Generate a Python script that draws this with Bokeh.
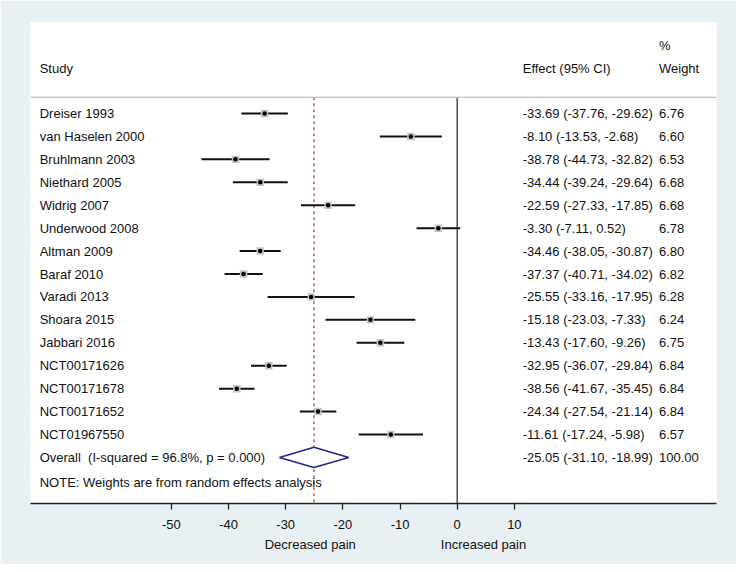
from bokeh.plotting import figure
from bokeh.models import Range1d, FixedTicker, Span, ColumnDataSource, LinearAxis
from bokeh.core.properties import value
from bokeh.embed import file_html
from bokeh.resources import INLINE
import math

# ---- data ----
studies = ["Dreiser 1993", "van Haselen 2000", "Bruhlmann 2003", "Niethard 2005",
           "Widrig 2007", "Underwood 2008", "Altman 2009", "Baraf 2010",
           "Varadi 2013", "Shoara 2015", "Jabbari 2016", "NCT00171626",
           "NCT00171678", "NCT00171652", "NCT01967550"]
effects = [-33.69, -8.10, -38.78, -34.44, -22.59, -3.30, -34.46, -37.37,
           -25.55, -15.18, -13.43, -32.95, -38.56, -24.34, -11.61]
lower = [-37.76, -13.53, -44.73, -39.24, -27.33, -7.11, -38.05, -40.71,
         -33.16, -23.03, -17.60, -36.07, -41.67, -27.54, -17.24]
upper = [-29.62, -2.68, -32.82, -29.64, -17.85, 0.52, -30.87, -34.02,
         -17.95, -7.33, -9.26, -29.84, -35.45, -21.14, -5.98]
weights = [6.76, 6.60, 6.53, 6.68, 6.68, 6.78, 6.80, 6.82,
           6.28, 6.24, 6.75, 6.84, 6.84, 6.84, 6.57]

overall_label = "Overall\u00a0\u00a0(I-squared = 96.8%, p = 0.000)"
overall_effect = -25.05
overall_lower = -31.10
overall_upper = -18.99
overall_weight = 100.00

x_ticks = [-50, -40, -30, -20, -10, 0, 10]
note_text = "NOTE: Weights are from random effects analysis"
direction_labels = ["Decreased pain", "Increased pain"]
direction_pos = [-25.7, 4.6]

# ---- layout helpers ----
FONT = value("Liberation Sans")
FS = value("13px")
TXT = "#111111"
BG = "#e9f0f3"

n = len(studies)
rows = list(range(n))
overall_row = n

STUDY_X = -73.03
EFFECT_X = 11.46
WEIGHT_X = 35.3
HEADER_Y = -1.96
PCT_Y = -2.97
LINE_Y = -0.71
Y_BOTTOM = 17.01

p = figure(width=736, height=564,
           x_range=Range1d(-74.64, 45.36), y_range=Range1d(Y_BOTTOM, -3.97),
           output_backend="svg", toolbar_location=None, y_axis_type=None,
           x_axis_type=None,
           min_border_left=30, min_border_right=20, min_border_top=22,
           min_border_bottom=61)
p.border_fill_color = BG
p.background_fill_color = "white"
p.outline_line_color = None
p.xgrid.visible = False
p.ygrid.visible = False

ax = LinearAxis(ticker=FixedTicker(ticks=x_ticks),
                major_label_overrides={t: str(t) for t in x_ticks})
ax.major_tick_out = 6
ax.major_tick_in = 0
ax.minor_tick_line_color = None
ax.axis_line_color = "#222222"
ax.axis_line_width = 1.3
ax.major_tick_line_color = "#222222"
ax.major_tick_line_width = 1.3
ax.major_label_text_font = "Liberation Sans"
ax.major_label_text_font_size = "13px"
ax.major_label_text_color = TXT
ax.major_label_standoff = 10
p.add_layout(ax, "below")

ax2 = LinearAxis(ticker=FixedTicker(ticks=direction_pos),
                 major_label_overrides={v: s for v, s in zip(direction_pos, direction_labels)})
ax2.axis_line_color = None
ax2.major_tick_line_color = None
ax2.minor_tick_line_color = None
ax2.major_tick_out = 0
ax2.major_tick_in = 0
ax2.major_label_standoff = 5
ax2.major_label_text_font = "Liberation Sans"
ax2.major_label_text_font_size = "13px"
ax2.major_label_text_color = TXT
p.add_layout(ax2, "below")

# header separator
p.add_layout(Span(location=LINE_Y, dimension="width", line_color="#b0b0b0", line_width=1))

# zero line and overall dashed line
p.segment(x0=[0], y0=[LINE_Y], x1=[0], y1=[Y_BOTTOM], line_color="#333333", line_width=1.3)
p.segment(x0=[overall_effect], y0=[LINE_Y], x1=[overall_effect], y1=[Y_BOTTOM],
          line_color="#b03a3a", line_width=1.2, line_dash="3 3")

# CIs
src = ColumnDataSource(dict(
    y=rows, eff=effects, lo=lower, hi=upper,
    size=[7.5 * math.sqrt(w / max(weights)) for w in weights],
))
p.segment(x0="lo", y0="y", x1="hi", y1="y", source=src, line_color="#111111", line_width=2)
p.scatter(x="eff", y="y", size="size", marker="square", source=src,
          fill_color="#c4c4c4", line_color=None)
p.scatter(x="eff", y="y", size=4.5, marker="circle", source=src,
          fill_color="#000000", line_color=None)

# overall diamond
h = 0.44
p.patch(x=[overall_lower, overall_effect, overall_upper, overall_effect],
        y=[overall_row, overall_row - h, overall_row, overall_row + h],
        fill_color="white", line_color="#1c2a84", line_width=1.6)

# text columns
def fmt(e, l, u):
    return f"{e:.2f} ({l:.2f}, {u:.2f})"

labels_all = studies + [overall_label]
eff_txt = [fmt(e, l, u) for e, l, u in zip(effects, lower, upper)] + \
          [fmt(overall_effect, overall_lower, overall_upper)]
w_txt = [f"{w:.2f}" for w in weights] + [f"{overall_weight:.2f}"]
ys = rows + [overall_row]

common = dict(text_font=FONT, text_font_size=FS, text_color=TXT,
              text_baseline="middle", text_align="left")
p.text(x=[STUDY_X] * len(ys), y=ys, text=labels_all, **common)
p.text(x=[EFFECT_X] * len(ys), y=ys, text=eff_txt, **common)
p.text(x=[WEIGHT_X] * len(ys), y=ys, text=w_txt, **common)

# headers
p.text(x=[STUDY_X, EFFECT_X, WEIGHT_X, WEIGHT_X], y=[HEADER_Y, HEADER_Y, HEADER_Y, PCT_Y],
       text=["Study", "Effect (95% CI)", "Weight", "%"], **common)
p.text(x=[STUDY_X], y=[16.09], text=[note_text], **common)

open("out.html", "w").write(file_html(p, INLINE))
